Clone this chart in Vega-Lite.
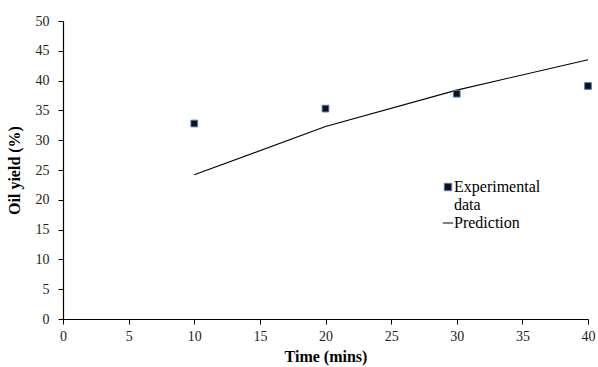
{
  "$schema": "https://vega.github.io/schema/vega-lite/v6.json",
  "width": 525,
  "height": 298,
  "autosize": "none",
  "padding": {"left": 63, "top": 21, "right": 10, "bottom": 48},
  "background": "white",
  "config": {
    "font": "Liberation Serif",
    "view": {"stroke": null},
    "axis": {
      "grid": false,
      "domainColor": "#000",
      "tickColor": "#000",
      "labelColor": "#222",
      "labelFont": "Liberation Serif",
      "labelFontSize": 14,
      "labelFlush": false,
      "titleFont": "Liberation Serif",
      "titleFontSize": 16,
      "titleFontWeight": "bold",
      "titleColor": "#000",
      "tickSize": 5,
      "domainWidth": 1.2
    }
  },
  "datasets": {
    "exp": [
      {"time": 10, "yield": 32.8},
      {"time": 20, "yield": 35.3},
      {"time": 30, "yield": 37.8},
      {"time": 40, "yield": 39.1}
    ],
    "pred": [
      {"time": 10, "yield": 24.2},
      {"time": 20, "yield": 32.3},
      {"time": 30, "yield": 38.4},
      {"time": 40, "yield": 43.5}
    ]
  },
  "encoding": {
    "x": {"field": "time", "type": "quantitative", "scale": {"domain": [0, 40], "nice": false}, "axis": {"title": "Time (mins)", "values": [0,5,10,15,20,25,30,35,40], "labelOverlap": false, "labelPadding": 5, "titlePadding": 5}},
    "y": {"field": "yield", "type": "quantitative", "scale": {"domain": [0, 50], "nice": false}, "axis": {"title": "Oil yield (%)", "values": [0,5,10,15,20,25,30,35,40,45,50], "labelOverlap": false, "labelBound": false, "labelExpr": "format(datum.value, 'd')", "labelPadding": 9, "titlePadding": 13}}
  },
  "layer": [
    {
      "data": {"name": "pred"},
      "mark": {"type": "line", "color": "#000", "strokeWidth": 1.1}
    },
    {
      "data": {"name": "exp"},
      "mark": {"type": "point", "shape": "square", "filled": true, "fill": "#111", "stroke": "#4a7ebb", "strokeWidth": 1, "size": 45, "opacity": 1}
    },
    {
      "data": {"values": [{"series": "Experimental data"}, {"series": "Prediction"}]},
      "mark": {"type": "point", "opacity": 0},
      "encoding": {
        "x": {"value": 0},
        "y": {"value": 0},
        "shape": {"field": "series", "type": "nominal", "scale": {"domain": ["Experimental data", "Prediction"], "range": ["square", "M-1.4,0H1.4"]},
          "legend": {"title": null, "orient": "none", "legendX": 377, "legendY": 158, "labelFont": "Liberation Serif", "labelFontSize": 16, "labelColor": "#000", "symbolSize": 55, "symbolStrokeWidth": 1, "symbolOpacity": 1, "labelOffset": -2, "rowPadding": 2, "labelExpr": "datum.label == 'Experimental data' ? ['Experimental', 'data'] : datum.label"}},
        "fill": {"field": "series", "type": "nominal", "scale": {"domain": ["Experimental data", "Prediction"], "range": ["#111", "transparent"]}, "legend": null},
        "stroke": {"field": "series", "type": "nominal", "scale": {"domain": ["Experimental data", "Prediction"], "range": ["#4a7ebb", "#000"]}, "legend": null}
      }
    }
  ]
}
